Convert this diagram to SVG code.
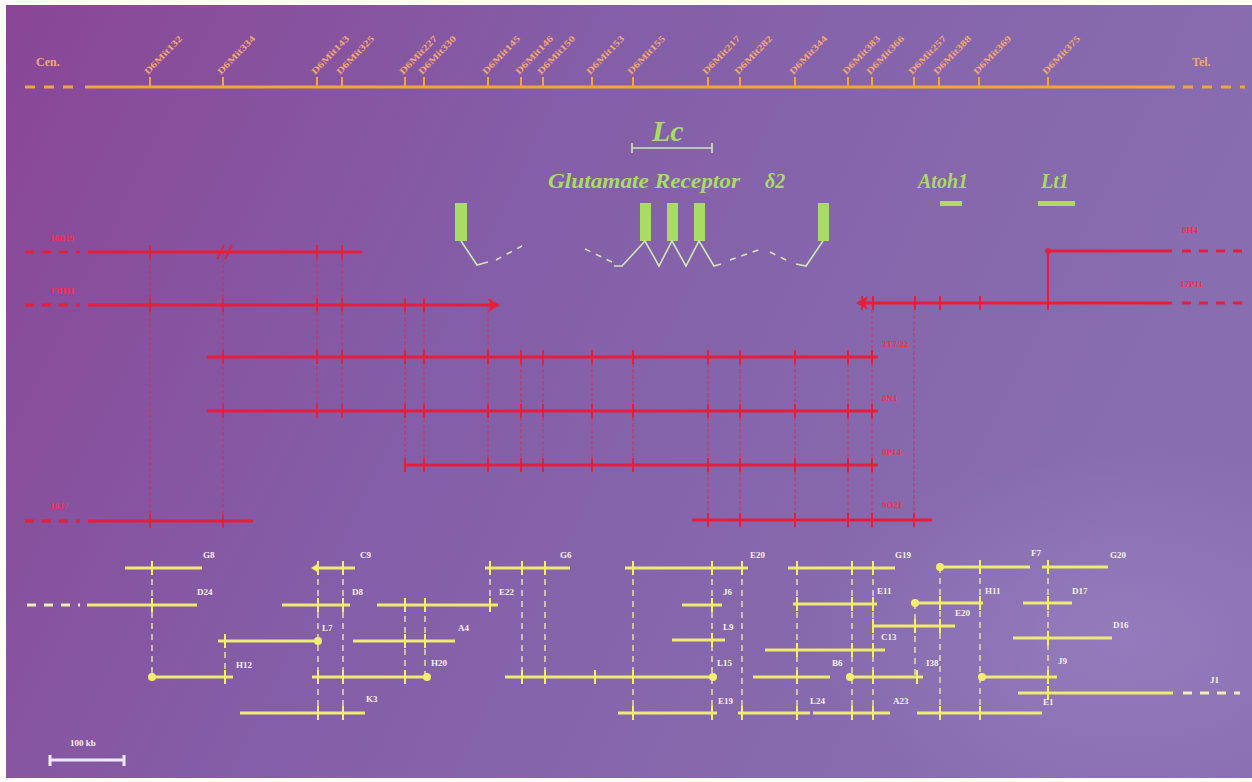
<svg xmlns="http://www.w3.org/2000/svg" width="1252" height="782" viewBox="0 0 1252 782">
<defs>
<linearGradient id="bg" x1="0" y1="0" x2="1" y2="0.3">
<stop offset="0" stop-color="#8a4696"/>
<stop offset="0.45" stop-color="#845ea8"/>
<stop offset="1" stop-color="#886eb0"/>
</linearGradient>
<radialGradient id="spot" cx="0.9" cy="0.82" r="0.25">
<stop offset="0" stop-color="#9a84c4" stop-opacity="0.6"/>
<stop offset="1" stop-color="#9a84c4" stop-opacity="0"/>
</radialGradient>
<style>
.or{stroke:#f4a43a;stroke-width:3;fill:none}
.ort{stroke:#f4a43a;stroke-width:2}
.ord{stroke:#f4a43a;stroke-width:3;stroke-dasharray:10 9}
.ml{font-family:"Liberation Serif",serif;font-size:9px;font-weight:bold;fill:#f4a870}
.ol{font-family:"Liberation Serif",serif;font-size:12px;font-weight:bold;fill:#f4a870}
.rd{stroke:#e61e3c;stroke-width:3;fill:none}
.rdd{stroke:#e61e3c;stroke-width:3;stroke-dasharray:9 8}
.rt{stroke:#e61e3c;stroke-width:2}
.rv{stroke:#e61e3c;stroke-width:0.9;stroke-dasharray:4 2;opacity:0.75}
.rl{font-family:"Liberation Serif",serif;font-size:9px;font-weight:bold;fill:#ff2a48}
.gn{fill:#a8dc64}
.gl{stroke:#cfe6b8;stroke-width:1.6;fill:none}
.gld{stroke:#cfe6b8;stroke-width:1.6;fill:none;stroke-dasharray:6 6}
.gt{font-family:"Liberation Serif",serif;font-style:italic;font-weight:bold;fill:#a8dc64}
.yl{stroke:#eeea74;stroke-width:3;fill:none}
.yld{stroke:#f0eeb8;stroke-width:3;stroke-dasharray:9 8}
.yt{stroke:#f4ee60;stroke-width:2}
.yv{stroke:#f4f0b0;stroke-width:1.3;stroke-dasharray:6 5}
.yd{fill:#f4ee70}
.yx{font-family:"Liberation Serif",serif;font-size:9px;font-weight:bold;fill:#f4f0e4}
.sb{stroke:#f0e8f8;stroke-width:3}
</style>
</defs>
<rect x="0" y="0" width="1252" height="782" fill="#ffffff"/>
<rect x="6" y="5" width="1246" height="773" fill="url(#bg)"/>
<rect x="6" y="5" width="1246" height="773" fill="url(#spot)"/>

<g id="map-axis">
<line class="ord" x1="25" y1="87" x2="80" y2="87"/>
<line class="or" x1="85" y1="87" x2="1175" y2="87"/>
<line class="ord" x1="1183" y1="87" x2="1245" y2="87"/>
<text class="ol" x="36" y="66">Cen.</text>
<text class="ol" x="1192" y="66">Tel.</text>
</g>

<g id="markers">
<g><line class="ort" x1="150" y1="77" x2="150" y2="87"/><text class="ml" textLength="50" lengthAdjust="spacingAndGlyphs" transform="translate(148,75) rotate(-46)">D6Mit132</text></g>
<g><line class="ort" x1="223" y1="77" x2="223" y2="87"/><text class="ml" textLength="50" lengthAdjust="spacingAndGlyphs" transform="translate(221,75) rotate(-46)">D6Mit334</text></g>
<g><line class="ort" x1="317" y1="77" x2="317" y2="87"/><text class="ml" textLength="50" lengthAdjust="spacingAndGlyphs" transform="translate(315,75) rotate(-46)">D6Mit143</text></g>
<g><line class="ort" x1="342" y1="77" x2="342" y2="87"/><text class="ml" textLength="50" lengthAdjust="spacingAndGlyphs" transform="translate(340,75) rotate(-46)">D6Mit325</text></g>
<g><line class="ort" x1="405" y1="77" x2="405" y2="87"/><text class="ml" textLength="50" lengthAdjust="spacingAndGlyphs" transform="translate(403,75) rotate(-46)">D6Mit227</text></g>
<g><line class="ort" x1="424" y1="77" x2="424" y2="87"/><text class="ml" textLength="50" lengthAdjust="spacingAndGlyphs" transform="translate(422,75) rotate(-46)">D6Mit330</text></g>
<g><line class="ort" x1="488" y1="77" x2="488" y2="87"/><text class="ml" textLength="50" lengthAdjust="spacingAndGlyphs" transform="translate(486,75) rotate(-46)">D6Mit145</text></g>
<g><line class="ort" x1="521" y1="77" x2="521" y2="87"/><text class="ml" textLength="50" lengthAdjust="spacingAndGlyphs" transform="translate(519,75) rotate(-46)">D6Mit146</text></g>
<g><line class="ort" x1="543" y1="77" x2="543" y2="87"/><text class="ml" textLength="50" lengthAdjust="spacingAndGlyphs" transform="translate(541,75) rotate(-46)">D6Mit150</text></g>
<g><line class="ort" x1="592" y1="77" x2="592" y2="87"/><text class="ml" textLength="50" lengthAdjust="spacingAndGlyphs" transform="translate(590,75) rotate(-46)">D6Mit153</text></g>
<g><line class="ort" x1="633" y1="77" x2="633" y2="87"/><text class="ml" textLength="50" lengthAdjust="spacingAndGlyphs" transform="translate(631,75) rotate(-46)">D6Mit155</text></g>
<g><line class="ort" x1="708" y1="77" x2="708" y2="87"/><text class="ml" textLength="50" lengthAdjust="spacingAndGlyphs" transform="translate(706,75) rotate(-46)">D6Mit217</text></g>
<g><line class="ort" x1="740" y1="77" x2="740" y2="87"/><text class="ml" textLength="50" lengthAdjust="spacingAndGlyphs" transform="translate(738,75) rotate(-46)">D6Mit282</text></g>
<g><line class="ort" x1="795" y1="77" x2="795" y2="87"/><text class="ml" textLength="50" lengthAdjust="spacingAndGlyphs" transform="translate(793,75) rotate(-46)">D6Mit344</text></g>
<g><line class="ort" x1="848" y1="77" x2="848" y2="87"/><text class="ml" textLength="50" lengthAdjust="spacingAndGlyphs" transform="translate(846,75) rotate(-46)">D6Mit383</text></g>
<g><line class="ort" x1="872" y1="77" x2="872" y2="87"/><text class="ml" textLength="50" lengthAdjust="spacingAndGlyphs" transform="translate(870,75) rotate(-46)">D6Mit366</text></g>
<g><line class="ort" x1="914" y1="77" x2="914" y2="87"/><text class="ml" textLength="50" lengthAdjust="spacingAndGlyphs" transform="translate(912,75) rotate(-46)">D6Mit257</text></g>
<g><line class="ort" x1="939" y1="77" x2="939" y2="87"/><text class="ml" textLength="50" lengthAdjust="spacingAndGlyphs" transform="translate(937,75) rotate(-46)">D6Mit388</text></g>
<g><line class="ort" x1="979" y1="77" x2="979" y2="87"/><text class="ml" textLength="50" lengthAdjust="spacingAndGlyphs" transform="translate(977,75) rotate(-46)">D6Mit369</text></g>
<g><line class="ort" x1="1048" y1="77" x2="1048" y2="87"/><text class="ml" textLength="50" lengthAdjust="spacingAndGlyphs" transform="translate(1046,75) rotate(-46)">D6Mit375</text></g>
</g>

<g id="genes">
<g id="lc">
<text class="gt" x="652" y="141" font-size="30">Lc</text>
<line class="gl" x1="632" y1="148" x2="712" y2="148" stroke-width="2.5"/>
<line class="gl" x1="632" y1="143" x2="632" y2="153" stroke-width="2"/>
<line class="gl" x1="712" y1="143" x2="712" y2="153" stroke-width="2"/>
</g>
<g id="grid2">
<text class="gt" x="548" y="188" font-size="21" textLength="192" lengthAdjust="spacingAndGlyphs">Glutamate Receptor</text>
<text class="gt" x="765" y="188" font-size="20">δ2</text>
<rect class="gn" x="455" y="203" width="12" height="38"/>
<rect class="gn" x="640" y="203" width="11" height="38"/>
<rect class="gn" x="667" y="203" width="11" height="38"/>
<rect class="gn" x="694" y="203" width="11" height="38"/>
<rect class="gn" x="818" y="203" width="11" height="38"/>
<polyline class="gl" points="461,241 477,265 488,262"/>
<line class="gld" x1="496" y1="260" x2="522" y2="246"/>
<line class="gld" x1="585" y1="249" x2="612" y2="262"/>
<polyline class="gl" points="614,266 622,266 645,241 659,266 672,241 686,266 699,241 714,266 721,264"/>
<line class="gld" x1="730" y1="260" x2="764" y2="248"/>
<line class="gld" x1="770" y1="252" x2="790" y2="262"/>
<polyline class="gl" points="796,264 806,266 823,241"/>
</g>
<g id="atoh1">
<text class="gt" x="918" y="188" font-size="20">Atoh1</text>
<rect class="gn" x="940" y="201" width="22" height="5"/>
</g>
<g id="lt1">
<text class="gt" x="1041" y="188" font-size="20">Lt1</text>
<rect class="gn" x="1038" y="201" width="37" height="5"/>
</g>
</g>

<g id="connectors">
<g id="red-links">
<line class="rv" x1="150" y1="252" x2="150" y2="521"/>
<line class="rv" x1="223" y1="252" x2="223" y2="521"/>
<line class="rv" x1="317" y1="252" x2="317" y2="411"/>
<line class="rv" x1="342" y1="252" x2="342" y2="411"/>
<line class="rv" x1="405" y1="305" x2="405" y2="465"/>
<line class="rv" x1="424" y1="305" x2="424" y2="465"/>
<line class="rv" x1="488" y1="305" x2="488" y2="465"/>
<line class="rv" x1="521" y1="357" x2="521" y2="465"/>
<line class="rv" x1="543" y1="357" x2="543" y2="465"/>
<line class="rv" x1="592" y1="357" x2="592" y2="465"/>
<line class="rv" x1="633" y1="357" x2="633" y2="465"/>
<line class="rv" x1="708" y1="357" x2="708" y2="520"/>
<line class="rv" x1="740" y1="357" x2="740" y2="520"/>
<line class="rv" x1="795" y1="357" x2="795" y2="520"/>
<line class="rv" x1="848" y1="357" x2="848" y2="520"/>
<line class="rv" x1="872" y1="303" x2="872" y2="520"/>
<line class="rv" x1="914" y1="303" x2="914" y2="520"/>
<line class="rt" x1="1048" y1="251" x2="1048" y2="303" stroke-width="1.3"/>
</g>
<g id="yellow-links">
<line class="yv" x1="152" y1="568" x2="152" y2="677"/>
<line class="yv" x1="225" y1="641" x2="225" y2="677"/>
<line class="yv" x1="318" y1="568" x2="318" y2="713"/>
<line class="yv" x1="343" y1="568" x2="343" y2="713"/>
<line class="yv" x1="405" y1="605" x2="405" y2="677"/>
<line class="yv" x1="425" y1="605" x2="425" y2="677"/>
<line class="yv" x1="490" y1="568" x2="490" y2="605"/>
<line class="yv" x1="522" y1="568" x2="522" y2="677"/>
<line class="yv" x1="545" y1="568" x2="545" y2="677"/>
<line class="yv" x1="633" y1="568" x2="633" y2="713"/>
<line class="yv" x1="712" y1="568" x2="712" y2="713"/>
<line class="yv" x1="742" y1="568" x2="742" y2="713"/>
<line class="yv" x1="797" y1="568" x2="797" y2="713"/>
<line class="yv" x1="852" y1="568" x2="852" y2="713"/>
<line class="yv" x1="873" y1="568" x2="873" y2="713"/>
<line class="yv" x1="915" y1="603" x2="915" y2="677"/>
<line class="yv" x1="940" y1="567" x2="940" y2="713"/>
<line class="yv" x1="980" y1="567" x2="980" y2="713"/>
<line class="yv" x1="1048" y1="567" x2="1048" y2="693"/>
</g>
</g>

<g id="red-clones">
<g id="r-16B19">
<line class="rdd" x1="25" y1="252" x2="80" y2="252"/>
<line class="rd" x1="88" y1="252" x2="362" y2="252"/>
<line class="rt" x1="150" y1="245" x2="150" y2="259"/><line class="rt" x1="317" y1="245" x2="317" y2="259"/><line class="rt" x1="342" y1="245" x2="342" y2="259"/>
<line class="rt" x1="217" y1="259" x2="224" y2="245"/><line class="rt" x1="225" y1="259" x2="232" y2="245"/>
<text class="rl" x="50" y="241">16B19</text>
</g>
<g id="r-13H11">
<line class="rdd" x1="25" y1="305" x2="80" y2="305"/>
<line class="rd" x1="88" y1="305" x2="492" y2="305"/>
<path d="M500,305 L488,298 L491,305 L488,312 Z" fill="#e61e3c"/>
<line class="rt" x1="150" y1="298" x2="150" y2="312"/><line class="rt" x1="223" y1="298" x2="223" y2="312"/><line class="rt" x1="317" y1="298" x2="317" y2="312"/><line class="rt" x1="342" y1="298" x2="342" y2="312"/><line class="rt" x1="405" y1="298" x2="405" y2="312"/><line class="rt" x1="424" y1="298" x2="424" y2="312"/>
<text class="rl" x="50" y="294">13H11</text>
</g>
<g id="r-8H4">
<circle cx="1048" cy="251" r="3" fill="#e61e3c"/>
<line class="rd" x1="1048" y1="251" x2="1172" y2="251"/>
<line class="rdd" x1="1182" y1="251" x2="1245" y2="251"/>
<text class="rl" x="1182" y="233">8H4</text>
</g>
<g id="r-17P11">
<line class="rd" x1="864" y1="303" x2="1172" y2="303"/>
<path d="M856,303 L868,296 L865,303 L868,310 Z" fill="#e61e3c"/>
<line class="rdd" x1="1182" y1="303" x2="1245" y2="303"/>
<line class="rt" x1="862" y1="296" x2="862" y2="310"/><line class="rt" x1="873" y1="296" x2="873" y2="310"/><line class="rt" x1="915" y1="296" x2="915" y2="310"/><line class="rt" x1="940" y1="296" x2="940" y2="310"/><line class="rt" x1="980" y1="296" x2="980" y2="310"/><line class="rt" x1="1048" y1="296" x2="1048" y2="310"/>
<text class="rl" x="1180" y="287">17P11</text>
</g>
<g id="r-3T7">
<line class="rd" x1="207" y1="357" x2="878" y2="357"/>
<line class="rt" x1="223" y1="350" x2="223" y2="364"/><line class="rt" x1="317" y1="350" x2="317" y2="364"/><line class="rt" x1="342" y1="350" x2="342" y2="364"/><line class="rt" x1="405" y1="350" x2="405" y2="364"/><line class="rt" x1="424" y1="350" x2="424" y2="364"/><line class="rt" x1="488" y1="350" x2="488" y2="364"/><line class="rt" x1="521" y1="350" x2="521" y2="364"/><line class="rt" x1="543" y1="350" x2="543" y2="364"/><line class="rt" x1="592" y1="350" x2="592" y2="364"/><line class="rt" x1="633" y1="350" x2="633" y2="364"/><line class="rt" x1="708" y1="350" x2="708" y2="364"/><line class="rt" x1="740" y1="350" x2="740" y2="364"/><line class="rt" x1="795" y1="350" x2="795" y2="364"/><line class="rt" x1="848" y1="350" x2="848" y2="364"/><line class="rt" x1="872" y1="350" x2="872" y2="364"/>
<text class="rl" x="882" y="347">3T7/22</text>
</g>
<g id="r-8N1">
<line class="rd" x1="207" y1="411" x2="878" y2="411"/>
<line class="rt" x1="223" y1="404" x2="223" y2="418"/><line class="rt" x1="317" y1="404" x2="317" y2="418"/><line class="rt" x1="342" y1="404" x2="342" y2="418"/><line class="rt" x1="405" y1="404" x2="405" y2="418"/><line class="rt" x1="424" y1="404" x2="424" y2="418"/><line class="rt" x1="488" y1="404" x2="488" y2="418"/><line class="rt" x1="521" y1="404" x2="521" y2="418"/><line class="rt" x1="543" y1="404" x2="543" y2="418"/><line class="rt" x1="592" y1="404" x2="592" y2="418"/><line class="rt" x1="633" y1="404" x2="633" y2="418"/><line class="rt" x1="708" y1="404" x2="708" y2="418"/><line class="rt" x1="740" y1="404" x2="740" y2="418"/><line class="rt" x1="795" y1="404" x2="795" y2="418"/><line class="rt" x1="848" y1="404" x2="848" y2="418"/><line class="rt" x1="872" y1="404" x2="872" y2="418"/>
<text class="rl" x="882" y="401">8N1</text>
</g>
<g id="r-8P14">
<line class="rd" x1="405" y1="465" x2="878" y2="465"/>
<line class="rt" x1="405" y1="458" x2="405" y2="472"/><line class="rt" x1="424" y1="458" x2="424" y2="472"/><line class="rt" x1="488" y1="458" x2="488" y2="472"/><line class="rt" x1="521" y1="458" x2="521" y2="472"/><line class="rt" x1="543" y1="458" x2="543" y2="472"/><line class="rt" x1="592" y1="458" x2="592" y2="472"/><line class="rt" x1="633" y1="458" x2="633" y2="472"/><line class="rt" x1="708" y1="458" x2="708" y2="472"/><line class="rt" x1="740" y1="458" x2="740" y2="472"/><line class="rt" x1="795" y1="458" x2="795" y2="472"/><line class="rt" x1="848" y1="458" x2="848" y2="472"/><line class="rt" x1="872" y1="458" x2="872" y2="472"/>
<text class="rl" x="882" y="455">8P14</text>
</g>
<g id="r-16J7">
<line class="rdd" x1="25" y1="521" x2="80" y2="521"/>
<line class="rd" x1="88" y1="521" x2="253" y2="521"/>
<line class="rt" x1="150" y1="514" x2="150" y2="528"/><line class="rt" x1="223" y1="514" x2="223" y2="528"/>
<text class="rl" x="50" y="509">16J7</text>
</g>
<g id="r-9O21">
<line class="rd" x1="692" y1="520" x2="932" y2="520"/>
<line class="rt" x1="708" y1="513" x2="708" y2="527"/><line class="rt" x1="740" y1="513" x2="740" y2="527"/><line class="rt" x1="795" y1="513" x2="795" y2="527"/><line class="rt" x1="848" y1="513" x2="848" y2="527"/><line class="rt" x1="872" y1="513" x2="872" y2="527"/><line class="rt" x1="914" y1="513" x2="914" y2="527"/>
<text class="rl" x="882" y="508">9O21</text>
</g>
</g>

<g id="yellow-clones">
<g id="y-G8"><line class="yl" x1="125" y1="568" x2="202" y2="568"/><line class="yt" x1="152" y1="561" x2="152" y2="575"/><text class="yx" x="203" y="558">G8</text></g>
<g id="y-D24"><line class="yld" x1="27" y1="605" x2="80" y2="605"/><line class="yl" x1="87" y1="605" x2="197" y2="605"/><line class="yt" x1="152" y1="598" x2="152" y2="612"/><text class="yx" x="197" y="595">D24</text></g>
<g id="y-H12"><line class="yl" x1="152" y1="677" x2="233" y2="677"/><circle class="yd" cx="152" cy="677" r="4"/><line class="yt" x1="225" y1="670" x2="225" y2="684"/><text class="yx" x="236" y="668">H12</text></g>
<g id="y-L7"><line class="yl" x1="218" y1="641" x2="318" y2="641"/><circle class="yd" cx="318" cy="641" r="4"/><line class="yt" x1="225" y1="634" x2="225" y2="648"/><text class="yx" x="322" y="631">L7</text></g>
<g id="y-C9"><line class="yl" x1="316" y1="568" x2="355" y2="568"/><path d="M311,568 L319,563 L319,573 Z" class="yd"/><line class="yt" x1="318" y1="561" x2="318" y2="575"/><line class="yt" x1="343" y1="561" x2="343" y2="575"/><text class="yx" x="360" y="558">C9</text></g>
<g id="y-D8"><line class="yl" x1="282" y1="605" x2="350" y2="605"/><line class="yt" x1="318" y1="598" x2="318" y2="612"/><line class="yt" x1="343" y1="598" x2="343" y2="612"/><text class="yx" x="352" y="595">D8</text></g>
<g id="y-E22"><line class="yl" x1="377" y1="605" x2="498" y2="605"/><line class="yt" x1="405" y1="598" x2="405" y2="612"/><line class="yt" x1="425" y1="598" x2="425" y2="612"/><line class="yt" x1="490" y1="598" x2="490" y2="612"/><text class="yx" x="499" y="595">E22</text></g>
<g id="y-A4"><line class="yl" x1="353" y1="641" x2="455" y2="641"/><line class="yt" x1="405" y1="634" x2="405" y2="648"/><line class="yt" x1="425" y1="634" x2="425" y2="648"/><text class="yx" x="458" y="631">A4</text></g>
<g id="y-H20"><line class="yl" x1="312" y1="677" x2="427" y2="677"/><circle class="yd" cx="427" cy="677" r="4"/><line class="yt" x1="318" y1="670" x2="318" y2="684"/><line class="yt" x1="343" y1="670" x2="343" y2="684"/><line class="yt" x1="405" y1="670" x2="405" y2="684"/><text class="yx" x="431" y="666">H20</text></g>
<g id="y-K3"><line class="yl" x1="240" y1="713" x2="365" y2="713"/><line class="yt" x1="318" y1="706" x2="318" y2="720"/><line class="yt" x1="343" y1="706" x2="343" y2="720"/><text class="yx" x="366" y="702">K3</text></g>
<g id="y-G6"><line class="yl" x1="485" y1="568" x2="570" y2="568"/><line class="yt" x1="490" y1="561" x2="490" y2="575"/><line class="yt" x1="522" y1="561" x2="522" y2="575"/><line class="yt" x1="545" y1="561" x2="545" y2="575"/><text class="yx" x="560" y="558">G6</text></g>
<g id="y-L15"><line class="yl" x1="505" y1="677" x2="713" y2="677"/><circle class="yd" cx="713" cy="677" r="4"/><line class="yt" x1="522" y1="670" x2="522" y2="684"/><line class="yt" x1="545" y1="670" x2="545" y2="684"/><line class="yt" x1="595" y1="670" x2="595" y2="684"/><line class="yt" x1="633" y1="670" x2="633" y2="684"/><text class="yx" x="717" y="666">L15</text></g>
<g id="y-E20"><line class="yl" x1="625" y1="568" x2="748" y2="568"/><line class="yt" x1="633" y1="561" x2="633" y2="575"/><line class="yt" x1="712" y1="561" x2="712" y2="575"/><line class="yt" x1="742" y1="561" x2="742" y2="575"/><text class="yx" x="750" y="558">E20</text></g>
<g id="y-J6"><line class="yl" x1="682" y1="605" x2="722" y2="605"/><line class="yt" x1="712" y1="598" x2="712" y2="612"/><text class="yx" x="723" y="595">J6</text></g>
<g id="y-L9"><line class="yl" x1="672" y1="640" x2="725" y2="640"/><line class="yt" x1="712" y1="633" x2="712" y2="647"/><text class="yx" x="723" y="630">L9</text></g>
<g id="y-E19"><line class="yl" x1="618" y1="713" x2="717" y2="713"/><line class="yt" x1="633" y1="706" x2="633" y2="720"/><line class="yt" x1="712" y1="706" x2="712" y2="720"/><text class="yx" x="718" y="704">E19</text></g>
<g id="y-G19"><line class="yl" x1="788" y1="568" x2="895" y2="568"/><line class="yt" x1="797" y1="561" x2="797" y2="575"/><line class="yt" x1="852" y1="561" x2="852" y2="575"/><line class="yt" x1="873" y1="561" x2="873" y2="575"/><text class="yx" x="895" y="558">G19</text></g>
<g id="y-E11"><line class="yl" x1="793" y1="604" x2="877" y2="604"/><line class="yt" x1="797" y1="597" x2="797" y2="611"/><line class="yt" x1="852" y1="597" x2="852" y2="611"/><line class="yt" x1="873" y1="597" x2="873" y2="611"/><text class="yx" x="877" y="594">E11</text></g>
<g id="y-C13"><line class="yl" x1="765" y1="650" x2="885" y2="650"/><line class="yt" x1="797" y1="643" x2="797" y2="657"/><line class="yt" x1="852" y1="643" x2="852" y2="657"/><line class="yt" x1="873" y1="643" x2="873" y2="657"/><text class="yx" x="881" y="640">C13</text></g>
<g id="y-B6"><line class="yl" x1="753" y1="677" x2="830" y2="677"/><line class="yt" x1="797" y1="670" x2="797" y2="684"/><text class="yx" x="832" y="666">B6</text></g>
<g id="y-L24"><line class="yl" x1="738" y1="713" x2="810" y2="713"/><line class="yt" x1="742" y1="706" x2="742" y2="720"/><line class="yt" x1="797" y1="706" x2="797" y2="720"/><text class="yx" x="810" y="704">L24</text></g>
<g id="y-A23"><line class="yl" x1="813" y1="713" x2="890" y2="713"/><line class="yt" x1="852" y1="706" x2="852" y2="720"/><line class="yt" x1="873" y1="706" x2="873" y2="720"/><text class="yx" x="893" y="704">A23</text></g>
<g id="y-E20b"><line class="yl" x1="872" y1="626" x2="955" y2="626"/><line class="yt" x1="873" y1="619" x2="873" y2="633"/><line class="yt" x1="915" y1="619" x2="915" y2="633"/><line class="yt" x1="940" y1="619" x2="940" y2="633"/><text class="yx" x="955" y="616">E20</text></g>
<g id="y-I38"><line class="yl" x1="850" y1="677" x2="923" y2="677"/><circle class="yd" cx="850" cy="677" r="4"/><line class="yt" x1="873" y1="670" x2="873" y2="684"/><line class="yt" x1="917" y1="670" x2="917" y2="684"/><text class="yx" x="926" y="666">I38</text></g>
<g id="y-F7"><line class="yl" x1="940" y1="567" x2="1030" y2="567"/><circle class="yd" cx="940" cy="567" r="4"/><line class="yt" x1="980" y1="560" x2="980" y2="574"/><text class="yx" x="1031" y="556">F7</text></g>
<g id="y-G20"><line class="yl" x1="1042" y1="567" x2="1108" y2="567"/><line class="yt" x1="1048" y1="560" x2="1048" y2="574"/><text class="yx" x="1110" y="558">G20</text></g>
<g id="y-H11"><line class="yl" x1="915" y1="603" x2="983" y2="603"/><circle class="yd" cx="915" cy="603" r="4"/><line class="yt" x1="940" y1="596" x2="940" y2="610"/><line class="yt" x1="980" y1="596" x2="980" y2="610"/><text class="yx" x="985" y="594">H11</text></g>
<g id="y-D17"><line class="yl" x1="1023" y1="603" x2="1072" y2="603"/><line class="yt" x1="1048" y1="596" x2="1048" y2="610"/><text class="yx" x="1072" y="594">D17</text></g>
<g id="y-D16"><line class="yl" x1="1013" y1="638" x2="1112" y2="638"/><line class="yt" x1="1048" y1="631" x2="1048" y2="645"/><text class="yx" x="1113" y="628">D16</text></g>
<g id="y-J9"><line class="yl" x1="982" y1="677" x2="1057" y2="677"/><circle class="yd" cx="982" cy="677" r="4"/><line class="yt" x1="1048" y1="670" x2="1048" y2="684"/><text class="yx" x="1058" y="664">J9</text></g>
<g id="y-J1"><line class="yl" x1="1018" y1="693" x2="1173" y2="693"/><line class="yld" x1="1183" y1="693" x2="1240" y2="693"/><line class="yt" x1="1048" y1="686" x2="1048" y2="700"/><text class="yx" x="1210" y="683">J1</text></g>
<g id="y-E1"><line class="yl" x1="917" y1="713" x2="1042" y2="713"/><line class="yt" x1="940" y1="706" x2="940" y2="720"/><line class="yt" x1="980" y1="706" x2="980" y2="720"/><text class="yx" x="1043" y="705">E1</text></g>
</g>

<g id="scale-bar">
<text class="yx" x="70" y="746" font-size="8">100 kb</text>
<line class="sb" x1="50" y1="760" x2="124" y2="760"/>
<line class="sb" x1="50" y1="755" x2="50" y2="766" stroke-width="2"/>
<line class="sb" x1="124" y1="755" x2="124" y2="766" stroke-width="2"/>
</g>
</svg>
